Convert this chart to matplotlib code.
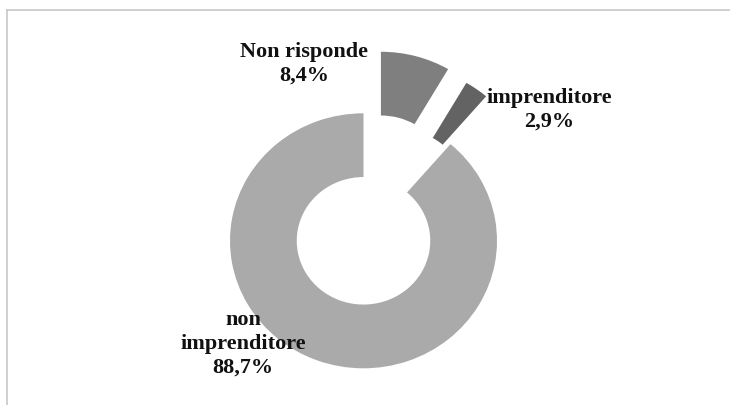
import matplotlib.pyplot as plt
from matplotlib.lines import Line2D

labels = ['Non risponde', 'imprenditore', 'non\nimprenditore']
values = [8.4, 2.9, 88.7]
colors = ['#7f7f7f', '#636363', '#aaaaaa']
explode = [0.5, 0.46, 0.0]

fig = plt.figure(figsize=(7.3, 4.05), dpi=100)
ax = fig.add_axes([0, 0, 1, 1])

ax.pie(values, explode=explode, colors=colors, startangle=90, counterclock=False,
       radius=1, wedgeprops=dict(width=0.5, linewidth=0))

# the original donut is slightly wider than tall: 133.5 px x 127.5 px radius
cx, cy, rx, ry = 363.5, 240.8, 133.5, 127.5
ax.set_aspect('auto')
ax.set_xlim(-cx / rx, (730 - cx) / rx)
ax.set_ylim(-(405 - cy) / ry, cy / ry)
ax.axis('off')

# label positions (pixels from top-left)
label_pos = [(304, 64), (549, 110), (243, 344)]
for lab, v, (x, y) in zip(labels, values, label_pos):
    txt = lab + '\n' + ('%.1f%%' % v).replace('.', ',')
    ax.text((x - cx) / rx, (cy - y) / ry, txt, ha='center', va='center', fontsize=16,
            fontweight='bold', family='Liberation Serif', linespacing=1.25,
            color='#111111')

# outer frame (top and left)
fig.add_artist(Line2D([7 / 730, 1], [1 - 10 / 405, 1 - 10 / 405], color='#c8c8c8', lw=1.2))
fig.add_artist(Line2D([7 / 730, 7 / 730], [0, 1 - 10 / 405], color='#c8c8c8', lw=1.2))

fig.savefig('out.png', dpi=100)
